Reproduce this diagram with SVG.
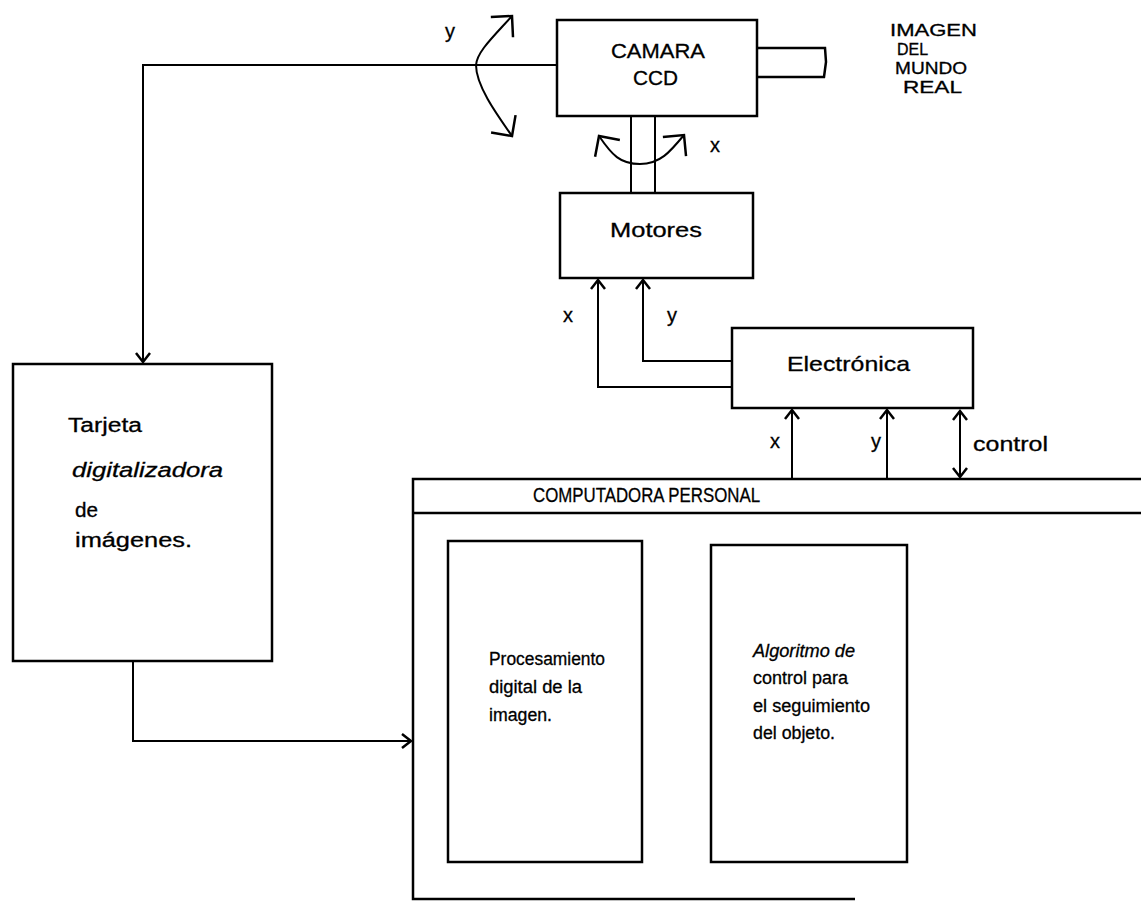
<svg xmlns="http://www.w3.org/2000/svg" width="1141" height="904" viewBox="0 0 1141 904">
<defs>
<style>
.box{fill:none;stroke:#000;stroke-width:2.5}
.ln{fill:none;stroke:#000;stroke-width:2}
.t{font-family:"Liberation Sans",Arial,sans-serif;font-size:20px;fill:#000;stroke:#000;stroke-width:0.3}
.s{font-size:16px}
.m{font-size:18px}
.l{font-size:21px}
.ti{font-style:italic}
</style>
<marker id="ah" markerUnits="userSpaceOnUse" markerWidth="24" markerHeight="24" refX="0" refY="0" viewBox="-12 -12 24 24" orient="auto-start-reverse">
<path d="M-9,-7 L0,0 L-9,7" fill="none" stroke="#000" stroke-width="2.5"/>
</marker>
<marker id="ahb" markerUnits="userSpaceOnUse" markerWidth="40" markerHeight="40" refX="0" refY="0" viewBox="-20 -20 40 40" orient="auto-start-reverse">
<path d="M-15,-15 L0,0 L-15,15" fill="none" stroke="#000" stroke-width="2.5"/>
</marker>
</defs>
<rect width="1141" height="904" fill="#fff"/>

<g id="connectors">
<path class="ln" d="M557,65 L143,65 L143,362" marker-end="url(#ah)"/>
<path class="ln" d="M133,661 L133,741 L411,741" marker-end="url(#ah)"/>
<path class="ln" d="M732,387 L598,387 L598,280" marker-end="url(#ah)"/>
<path class="ln" d="M732,361 L643,361 L643,280" marker-end="url(#ah)"/>
<path class="ln" d="M792,479 L792,410" marker-end="url(#ah)"/>
<path class="ln" d="M887,479 L887,410" marker-end="url(#ah)"/>
<path class="ln" d="M960,477 L960,411" marker-start="url(#ah)" marker-end="url(#ah)" stroke-width="1.5"/>
<path class="ln" d="M631,116 L631,193 M655,116 L655,193"/>
<path class="ln" d="M512,16 C492,38 477,52 476,65 C476,85 495,112 512,136" marker-start="url(#ahb)" marker-end="url(#ahb)" stroke-width="2.5"/>
<path class="ln" d="M599,136 C612,155 620,164 640,164 C660,164 670,152 684,135" marker-start="url(#ahb)" marker-end="url(#ahb)" stroke-width="2.5"/>
</g>

<g id="camara">
<rect class="box" x="557" y="20" width="200" height="96"/>
<path class="box" d="M757,48 L825,48 L826,62 L824,77 L757,77"/>
<text class="t l" x="611" y="58" textLength="94" lengthAdjust="spacingAndGlyphs">CAMARA</text>
<text class="t l" x="633" y="85" textLength="45" lengthAdjust="spacingAndGlyphs">CCD</text>
</g>

<g id="label-y-cam"><text class="t" x="445" y="38">y</text></g>
<g id="label-x-cam"><text class="t" x="710" y="152">x</text></g>

<g id="imagen">
<text class="t s" x="890" y="36" textLength="87" lengthAdjust="spacingAndGlyphs">IMAGEN</text>
<text class="t s" x="897" y="55" textLength="31" lengthAdjust="spacingAndGlyphs">DEL</text>
<text class="t s" x="895" y="74" textLength="72" lengthAdjust="spacingAndGlyphs">MUNDO</text>
<text class="t s" x="903" y="93" textLength="59" lengthAdjust="spacingAndGlyphs">REAL</text>
</g>

<g id="motores">
<rect class="box" x="560" y="193" width="193" height="85"/>
<text class="t l" x="610" y="237" textLength="92" lengthAdjust="spacingAndGlyphs">Motores</text>
</g>
<g id="label-x-mot"><text class="t" x="563" y="322">x</text></g>
<g id="label-y-mot"><text class="t" x="667" y="322">y</text></g>

<g id="electronica">
<rect class="box" x="732" y="328" width="241" height="80"/>
<text class="t l" x="787" y="371" textLength="123" lengthAdjust="spacingAndGlyphs">Electrónica</text>
</g>
<g id="label-x-el"><text class="t" x="770" y="448">x</text></g>
<g id="label-y-el"><text class="t" x="871" y="448">y</text></g>
<g id="label-control"><text class="t" x="973" y="451" textLength="75" lengthAdjust="spacingAndGlyphs">control</text></g>

<g id="tarjeta">
<rect class="box" x="13" y="364" width="259" height="297"/>
<text class="t" x="68" y="432" textLength="74" lengthAdjust="spacingAndGlyphs">Tarjeta</text>
<text class="t ti" x="72" y="477" textLength="151" lengthAdjust="spacingAndGlyphs">digitalizadora</text>
<text class="t" x="75" y="517" textLength="23" lengthAdjust="spacingAndGlyphs">de</text>
<text class="t" x="75" y="547" textLength="117" lengthAdjust="spacingAndGlyphs">imágenes.</text>
</g>

<g id="computadora">
<path class="box" d="M1141,479 L413,479 L413,899 L855,899"/>
<path class="box" d="M413,513 L1141,513"/>
<text class="t l" x="533" y="502" textLength="227" lengthAdjust="spacingAndGlyphs">COMPUTADORA  PERSONAL</text>
</g>

<g id="procesamiento">
<rect class="box" x="448" y="541" width="194" height="321"/>
<text class="t m" x="489" y="665" textLength="116" lengthAdjust="spacingAndGlyphs">Procesamiento</text>
<text class="t m" x="489" y="693" textLength="93" lengthAdjust="spacingAndGlyphs">digital de la</text>
<text class="t m" x="489" y="721" textLength="63" lengthAdjust="spacingAndGlyphs">imagen.</text>
</g>

<g id="algoritmo">
<rect class="box" x="711" y="545" width="196" height="317"/>
<text class="t m ti" x="753" y="657" textLength="102" lengthAdjust="spacingAndGlyphs">Algoritmo de</text>
<text class="t m" x="753" y="684" textLength="95" lengthAdjust="spacingAndGlyphs">control para</text>
<text class="t m" x="753" y="712" textLength="117" lengthAdjust="spacingAndGlyphs">el seguimiento</text>
<text class="t m" x="753" y="739" textLength="82" lengthAdjust="spacingAndGlyphs">del objeto.</text>
</g>
</svg>
